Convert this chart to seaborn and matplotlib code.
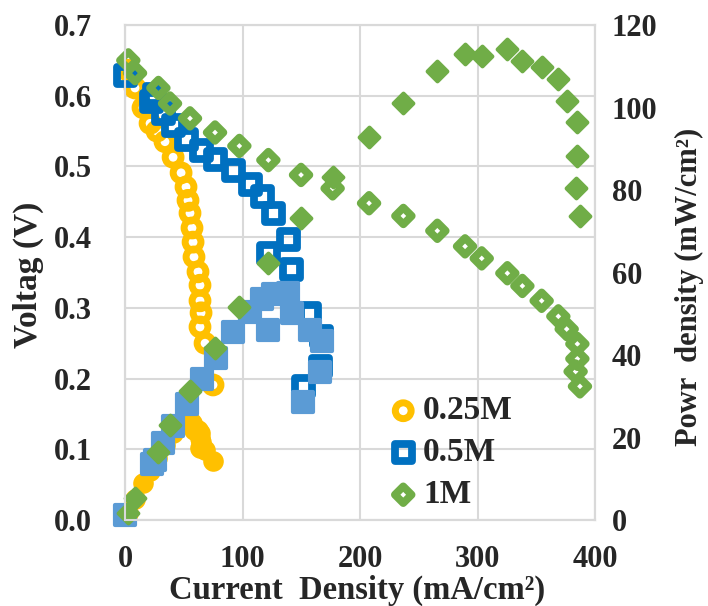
import numpy as np
import matplotlib
matplotlib.use("Agg")
import matplotlib.pyplot as plt
import seaborn as sns

# values
current_025 = [2.6, 8.5, 15.3, 21.3, 27.2, 34.0, 40.9, 47.7, 51.9, 53.6, 55.3,
               57.0, 57.9, 58.7, 62.1, 63.8, 63.8, 64.7, 63.8, 68.1, 74.9]
voltage_025 = [0.636, 0.611, 0.583, 0.561, 0.550, 0.535, 0.513, 0.491, 0.471, 0.452, 0.434,
               0.413, 0.393, 0.372, 0.351, 0.332, 0.310, 0.293, 0.273, 0.250, 0.191]
power_025 = [1.7, 5.2, 8.9, 11.9, 15.0, 18.2, 21.0, 23.4, 24.4, 24.2, 24.0,
             23.5, 22.8, 21.8, 21.8, 21.2, 19.8, 19.0, 17.4, 17.0, 14.3]

current_05 = [0.0, 25.5, 22.7, 32.6, 41.0, 52.5, 65.3, 77.0, 92.2, 106.4, 117.0,
              126.2, 139.0, 122.0, 141.8, 157.4, 167.4, 166.0, 151.7]
voltage_05 = [0.629, 0.602, 0.592, 0.575, 0.558, 0.538, 0.522, 0.510, 0.494, 0.474, 0.458,
              0.434, 0.396, 0.377, 0.354, 0.292, 0.259, 0.217, 0.189]
power_05 = [1.2, 14.5, 13.5, 18.7, 22.9, 28.2, 34.1, 39.3, 45.5, 50.4, 53.6,
            54.8, 55.0, 46.0, 50.2, 46.0, 43.4, 36.0, 28.7]

current_1 = [2.8, 8.5, 28.4, 38.3, 55.3, 76.6, 97.3, 122.0, 149.8, 176.7, 207.7, 236.9,
             265.8, 289.4, 303.6, 325.4, 338.2, 354.6, 368.8, 375.9, 385.0, 385.0, 383.5, 387.2]
voltage_1 = [0.650, 0.632, 0.611, 0.589, 0.568, 0.548, 0.529, 0.509, 0.488, 0.469, 0.448, 0.430,
             0.409, 0.387, 0.370, 0.349, 0.331, 0.310, 0.288, 0.270, 0.249, 0.228, 0.210, 0.189]
power_1 = [1.8, 5.3, 16.6, 23.0, 31.3, 41.6, 51.6, 62.4, 73.3, 83.2, 92.9, 101.2,
           108.9, 113.0, 112.5, 114.1, 111.3, 109.9, 106.8, 101.6, 96.4, 88.2, 80.4, 73.7]

labels = ["0.25M", "0.5M", "1M"]
x_ticks = [0, 100, 200, 300, 400]
v_ticks = [0.0, 0.1, 0.2, 0.3, 0.4, 0.5, 0.6, 0.7]
p_ticks = [0, 20, 40, 60, 80, 100, 120]

ORANGE = "#FFC000"
BLUE = "#0070C0"
LIGHT_BLUE = "#5B9BD5"
GREEN = "#70AD47"

sns.set_style("white")
plt.rcParams['font.family'] = ['Liberation Serif', 'DejaVu Serif']
plt.rcParams['font.weight'] = 'bold'
FS = 22

fig = plt.figure(figsize=(7.08, 6.06), dpi=100)
ax = fig.add_axes([0.1766, 0.1419, 0.6638, 0.8168])
ax2 = ax.twinx()

# polarization curves (hollow markers, left axis)
hollow = [
    (current_025, voltage_025, ORANGE, "o", 130, 5.0),
    (current_05, voltage_05, BLUE, "s", 150, 5.6),
    (current_1, voltage_1, GREEN, "D", 72, 5.6),
]
handles = []
for (x, y, c, m, s, lw), lab in zip(hollow, labels):
    sns.scatterplot(x=x, y=y, ax=ax, marker=m, s=s, color=c, facecolor="none",
                    edgecolor=c, linewidth=lw, label=lab, legend=False, clip_on=False)
    coll = ax.collections[-1]
    coll.set_joinstyle("round")
    handles.append(coll)

# power curves (filled markers, right axis)
filled = [
    (current_025, power_025, ORANGE, "o", 220, 0),
    (current_05, power_05, LIGHT_BLUE, "s", 190, 3.0),
    (current_1, power_1, GREEN, "D", 100, 3.0),
]
for x, y, c, m, s, lw in filled:
    sns.scatterplot(x=x, y=y, ax=ax2, marker=m, s=s, color=c, edgecolor=c,
                    linewidth=lw, legend=False, clip_on=False)
    ax2.collections[-1].set_joinstyle("round")

ax.set_xlim(0, 400)
ax.set_ylim(0, 0.7)
ax2.set_ylim(0, 120)
ax.set_xticks(x_ticks)
ax.set_yticks(v_ticks)
ax.set_yticklabels([f"{v:.1f}" for v in v_ticks])
ax2.set_yticks(p_ticks)

ax.grid(True, color="#D9D9D9", lw=1.5)
ax.set_axisbelow(True)
for a in (ax, ax2):
    for sp in a.spines.values():
        sp.set_color("#D9D9D9")
        sp.set_linewidth(1.5)

ax.tick_params(axis="x", length=0, pad=18, labelsize=FS)
ax.tick_params(axis="y", length=0, pad=24, labelsize=FS)
ax2.tick_params(axis="y", length=0, pad=12, labelsize=FS)

ax.set_xlabel("Current  Density (mA/cm²)", fontsize=23.5, fontweight="bold", va="center")
ax.set_ylabel("Voltag (V)", fontsize=24, fontweight="bold", va="center")
ax2.set_ylabel("Powr  density (mW/cm²)", fontsize=22, fontweight="bold", va="center")
ax.xaxis.set_label_coords(0.494, -0.143)
ax.yaxis.set_label_coords(-0.206, 0.495)
ax2.yaxis.set_label_coords(1.202, 0.47)

ax2.legend(handles=handles, labels=labels, loc="center left",
           bbox_to_anchor=(0.546, 0.2525), bbox_transform=fig.transFigure,
           frameon=False, prop={"family": "Liberation Serif", "weight": "bold", "size": 24},
           handlelength=1.0, handletextpad=0.1, labelspacing=0.33,
           borderpad=0, borderaxespad=0, scatterpoints=1)

fig.savefig("out.png", dpi=100)
